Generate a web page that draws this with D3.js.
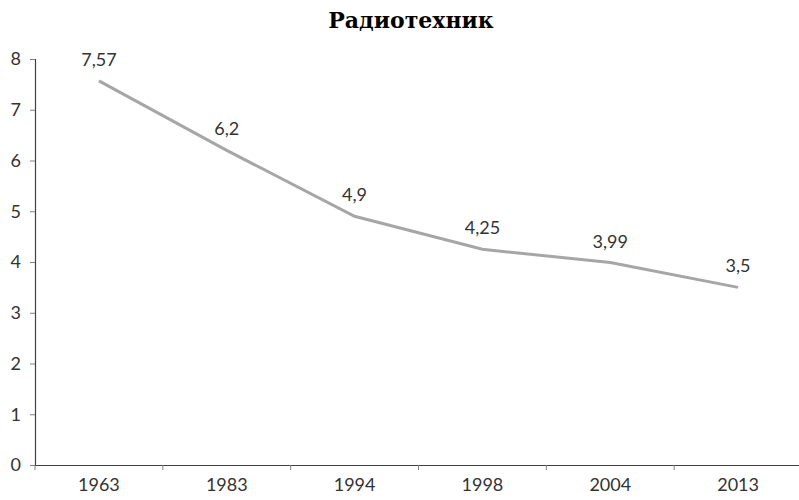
<!DOCTYPE html>
<html>
<head>
<meta charset="utf-8">
<script src="https://cdn.jsdelivr.net/npm/d3@7"></script>
<style>
  body { margin: 0; background: #fff; }
  svg { display: block; }
</style>
</head>
<body>
<div id="chart"></div>
<script>
// chart data
var years = ["1963", "1983", "1994", "1998", "2004", "2013"];
var values = [7.57, 6.2, 4.9, 4.25, 3.99, 3.5];
var labels = ["7,57", "6,2", "4,9", "4,25", "3,99", "3,5"];
var yTicks = [0, 1, 2, 3, 4, 5, 6, 7, 8];
var title = "Радиотехник";

var w = 799, h = 500;
var margin = {top: 59, right: -3, bottom: 35, left: 35};

var svg = d3.select("#chart")
  .append("svg")
  .attr("width", w)
  .attr("height", h);

var x = d3.scaleBand()
  .domain(years)
  .range([margin.left, w - margin.right]);

var y = d3.scaleLinear()
  .domain([0, 8])
  .range([h - margin.bottom, margin.top]);

// title
svg.append("text")
  .attr("x", 411)
  .attr("y", 28)
  .attr("text-anchor", "middle")
  .style("font-family", "'DejaVu Serif', 'Liberation Serif', serif")
  .style("font-weight", "bold")
  .style("font-size", "22px")
  .text(title);

var labelFont = "Lato, 'Open Sans', sans-serif";

// y axis
var yAxis = svg.append("g")
  .attr("transform", "translate(" + margin.left + ",0)")
  .call(d3.axisLeft(y).tickValues(yTicks).tickSize(5).tickPadding(9).tickFormat(d3.format("d")));
yAxis.select(".domain").attr("stroke", "#404040").attr("stroke-width", 1.2);
yAxis.selectAll(".tick line").attr("stroke", "#808080");
yAxis.selectAll("text")
  .style("font-family", labelFont)
  .style("font-size", "18px")
  .attr("fill", "#333");

// x axis, ticks between categories
var xAxis = svg.append("g")
  .attr("transform", "translate(0," + y(0) + ")")
  .call(d3.axisBottom(x).tickSize(0).tickPadding(13));
xAxis.select(".domain").attr("stroke", "#404040").attr("stroke-width", 1.2);
xAxis.selectAll("text")
  .style("font-family", labelFont)
  .style("font-size", "18px")
  .attr("fill", "#333");

svg.append("g")
  .selectAll("line")
  .data(years)
  .enter()
  .append("line")
  .attr("x1", function(d){ return x(d); })
  .attr("x2", function(d){ return x(d); })
  .attr("y1", y(0))
  .attr("y2", y(0) + 5)
  .attr("stroke", "#808080");

// series line
var line = d3.line()
  .x(function(d, i){ return x(years[i]) + x.bandwidth() / 2; })
  .y(function(d){ return y(d); });

svg.append("path")
  .datum(values)
  .attr("d", line)
  .attr("fill", "none")
  .attr("stroke", "#a6a6a6")
  .attr("stroke-width", 3);

// data labels
svg.append("g")
  .selectAll("text")
  .data(values)
  .enter()
  .append("text")
  .attr("x", function(d, i){ return x(years[i]) + x.bandwidth() / 2; })
  .attr("y", function(d){ return y(d) - 15; })
  .attr("text-anchor", "middle")
  .style("font-family", labelFont)
  .style("font-size", "18px")
  .attr("fill", "#333")
  .text(function(d, i){ return labels[i]; });
</script>
</body>
</html>
